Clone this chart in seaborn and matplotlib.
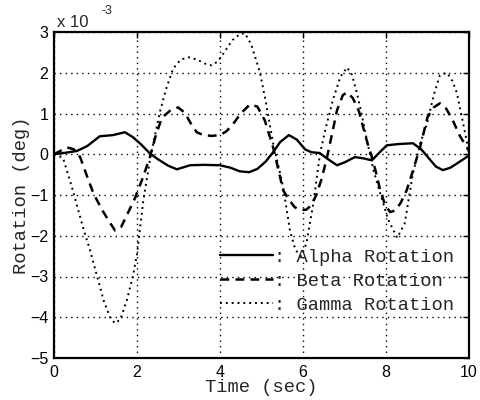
import matplotlib
matplotlib.use("Agg")
import matplotlib.pyplot as plt
from matplotlib.font_manager import FontProperties
import seaborn as sns

# Rotation responses, in units of 1e-3 deg, sampled against time in seconds
alpha_t = [0.0, 0.3, 0.55, 0.8, 1.1, 1.42, 1.71, 1.9, 2.1, 2.31, 2.5, 2.75, 2.96,
           3.28, 3.6, 4.0, 4.25, 4.48, 4.7, 4.9, 5.1, 5.28, 5.45, 5.66, 5.85, 6.05,
           6.2, 6.4, 6.6, 6.82, 7.0, 7.25, 7.45, 7.66, 7.85, 8.02, 8.3, 8.65, 8.85,
           9.05, 9.2, 9.37, 9.55, 9.75, 10.0]
alpha_v = [0.0, 0.04, 0.08, 0.2, 0.44, 0.47, 0.54, 0.42, 0.24, 0.02, -0.12, -0.28, -0.37,
           -0.27, -0.26, -0.27, -0.33, -0.42, -0.44, -0.36, -0.18, 0.05, 0.3, 0.47, 0.36, 0.12,
           0.05, 0.03, -0.12, -0.27, -0.2, -0.07, -0.1, -0.15, 0.05, 0.22, 0.25, 0.27, 0.12,
           -0.12, -0.3, -0.39, -0.33, -0.2, -0.03]

beta_t = [0.0, 0.15, 0.31, 0.48, 0.63, 0.8, 0.95, 1.15, 1.3, 1.47, 1.62, 1.8, 1.95,
          2.15, 2.31, 2.45, 2.6, 2.8, 2.99, 3.15, 3.3, 3.44, 3.6, 3.8, 4.0, 4.15, 4.3,
          4.5, 4.72, 4.9, 5.08, 5.28, 5.4, 5.52, 5.65, 5.8, 5.95, 6.08, 6.2, 6.32, 6.45,
          6.58, 6.7, 6.82, 6.96, 7.06, 7.2, 7.35, 7.45, 7.56, 7.66, 7.76, 7.86, 7.98,
          8.1, 8.22, 8.35, 8.5, 8.65, 8.82, 9.0, 9.15, 9.3, 9.45, 9.61, 9.78, 10.0]
beta_v = [0.0, 0.08, 0.17, 0.12, -0.07, -0.55, -0.96, -1.35, -1.6, -1.87, -1.78, -1.4, -1.08,
          -0.55, -0.07, 0.45, 0.9, 1.07, 1.15, 1.02, 0.75, 0.54, 0.47, 0.45, 0.47, 0.56, 0.72,
          1.0, 1.22, 1.17, 0.83, 0.17, -0.35, -0.88, -1.1, -1.3, -1.37, -1.36, -1.25, -1.0, -0.6,
          -0.07, 0.5, 1.08, 1.45, 1.52, 1.38, 1.05, 0.66, 0.25, -0.07, -0.45, -0.88, -1.25,
          -1.42, -1.38, -1.2, -0.88, -0.4, 0.17, 0.91, 1.15, 1.25, 1.12, 0.83, 0.45, 0.08]

gamma_t = [0.0, 0.1, 0.22, 0.43, 0.7, 0.87, 1.04, 1.2, 1.35, 1.47, 1.6, 1.75, 1.9,
           2.0, 2.15, 2.31, 2.43, 2.55, 2.7, 2.87, 3.05, 3.25, 3.45, 3.65, 3.8, 3.95,
           4.1, 4.3, 4.48, 4.6, 4.75, 4.96, 5.1, 5.28, 5.4, 5.52, 5.69, 5.82, 5.95,
           6.08, 6.25, 6.41, 6.55, 6.72, 6.9, 7.06, 7.18, 7.3, 7.42, 7.54, 7.7, 7.86,
           8.05, 8.27, 8.45, 8.65, 8.82, 8.99, 9.15, 9.3, 9.47, 9.6, 9.71, 9.85, 10.0]
gamma_v = [0.0, -0.03, -0.1, -0.8, -1.8, -2.36, -3.0, -3.6, -4.0, -4.15, -4.05, -3.6, -3.0,
           -2.45, -1.15, -0.15, 0.45, 1.03, 1.6, 2.1, 2.32, 2.38, 2.32, 2.22, 2.18, 2.28,
           2.5, 2.8, 2.95, 2.97, 2.7, 2.02, 1.3, 0.27, -0.25, -0.8, -1.9, -2.35, -2.5,
           -2.2, -1.2, 0.02, 0.65, 1.33, 1.9, 2.13, 1.95, 1.5, 0.95, 0.34, -0.4, -0.96,
           -1.6, -2.05, -1.7, -0.47, 0.25, 0.76, 1.45, 1.94, 2.0, 1.8, 1.5, 0.8, 0.05]

x_ticks = [0, 2, 4, 6, 8, 10]
y_ticks = [-5, -4, -3, -2, -1, 0, 1, 2, 3]

sns.set_style("white")
plt.rcParams["font.family"] = ["Liberation Sans", "DejaVu Sans"]
mono = FontProperties(family="Liberation Mono", size=13.5)

fig = plt.figure(figsize=(4.81, 4.0), dpi=100)
ax = fig.add_axes([54 / 481, 42 / 400, 415 / 481, 326 / 400])

sns.lineplot(x=alpha_t, y=alpha_v, ax=ax, color="black", linewidth=1.7,
             linestyle="-", errorbar=None, label=": Alpha Rotation")
sns.lineplot(x=beta_t, y=beta_v, ax=ax, color="black", linewidth=1.8,
             linestyle=(0, (3.5, 2.5)), errorbar=None, label=": Beta Rotation")
sns.lineplot(x=gamma_t, y=gamma_v, ax=ax, color="black", linewidth=1.4,
             linestyle=(0, (1, 2)), errorbar=None, label=": Gamma Rotation")

ax.set_xlim(0, 10)
ax.set_ylim(-5, 3)
ax.set_xticks(x_ticks)
ax.set_yticks(y_ticks)
ax.grid(True, color="black", linestyle=(0, (1, 3)), linewidth=1.0)
ax.set_axisbelow(True)
ax.tick_params(direction="in", length=4, width=1.0, top=True, right=True,
               labelsize=11.5, colors="black")
ax.tick_params(axis="x", pad=5)
ax.tick_params(axis="y", pad=4)
for sp in ax.spines.values():
    sp.set_color("black")
    sp.set_linewidth(1.6)

ax.set_xlabel("Time (sec)", fontproperties=mono, labelpad=-1)
ax.set_ylabel("Rotation (deg)", fontproperties=mono, labelpad=0)

# exponent marker above the y axis
fig.text(57 / 481, 1 - 27 / 400, "x 10", fontsize=12, ha="left", va="baseline")
fig.text(101 / 481, 1 - 14 / 400, "-3", fontsize=9, ha="left", va="baseline")

ax.legend(loc="upper left", bbox_to_anchor=(0.4, 0.335), frameon=False, prop=mono,
          handlelength=2.8, handletextpad=0.1, labelspacing=0.37,
          borderpad=0, borderaxespad=0)

fig.savefig("out.png", dpi=100)
